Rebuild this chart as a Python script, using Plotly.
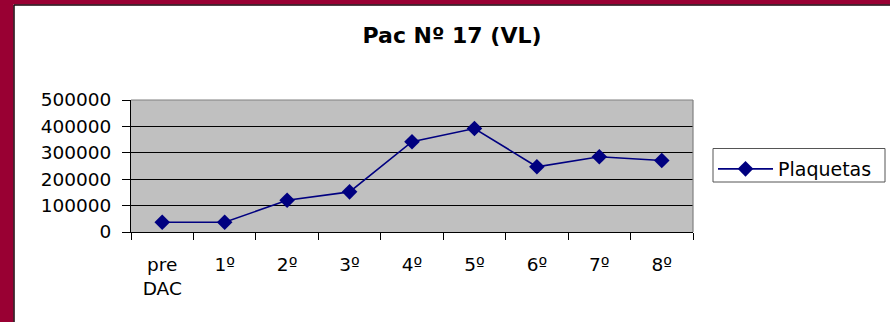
import plotly.graph_objects as go

# Platelet counts per session
categories = ["pre<br>DAC", "1º", "2º", "3º", "4º", "5º", "6º", "7º", "8º"]
plaquetas = [37000, 37000, 120000, 152000, 342000, 392000, 247000, 285000, 271000]
y_ticks = [0, 100000, 200000, 300000, 400000, 500000]

W, H = 890, 322
L, R, T, B = 131, 693, 100, 232  # plot area in pixels

def px_x(p):
    return (p - L) / (R - L)

def px_y(p):
    return 1 - (p - T) / (B - T)

FONT = "DejaVu Sans"
MAROON = "#990033"

fig = go.Figure()
fig.add_trace(go.Scatter(
    x=categories, y=plaquetas, name="Plaquetas", mode="lines+markers",
    line=dict(color="#000080", width=1.6),
    marker=dict(symbol="diamond", size=12, color="#000080"),
))

shapes = [
    # maroon frame at left and top
    dict(type="rect", xref="paper", yref="paper", x0=px_x(-2), x1=px_x(13.5),
         y0=px_y(H + 2), y1=px_y(-2), fillcolor=MAROON, line=dict(width=0), layer="above"),
    dict(type="rect", xref="paper", yref="paper", x0=px_x(-2), x1=px_x(W + 2),
         y0=px_y(4.5), y1=px_y(-2), fillcolor=MAROON, line=dict(width=0), layer="above"),
    # dark inner edge of the frame
    dict(type="line", xref="paper", yref="paper", x0=px_x(14), x1=px_x(14),
         y0=px_y(H + 2), y1=px_y(5), line=dict(color="#1a0008", width=1.5), layer="above"),
    dict(type="line", xref="paper", yref="paper", x0=px_x(14), x1=px_x(W + 2),
         y0=px_y(5), y1=px_y(5), line=dict(color="#1a0008", width=1.5), layer="above"),
    # grey top and right edges of the plot area
    dict(type="line", xref="paper", yref="paper", x0=0, x1=1, y0=1, y1=1,
         line=dict(color="#808080", width=1.2), layer="above"),
    dict(type="line", xref="paper", yref="paper", x0=1, x1=1, y0=0, y1=1,
         line=dict(color="#808080", width=1.2), layer="above"),
    # legend frame
    dict(type="rect", xref="paper", yref="paper", x0=px_x(713), x1=px_x(885),
         y0=px_y(182), y1=px_y(148.5), fillcolor="white",
         line=dict(color="#555555", width=1), layer="below"),
]

fig.update_layout(
    width=W, height=H,
    margin=dict(l=L, r=W - R, t=T, b=H - B, pad=0),
    paper_bgcolor="white",
    plot_bgcolor="#C0C0C0",
    font=dict(family=FONT, size=18, color="black"),
    title=dict(text="<b>Pac Nº 17 (VL)</b>", x=452 / W, xanchor="center",
               y=1 - 35 / H, yanchor="middle", yref="container",
               font=dict(family=FONT, size=22, color="black")),
    showlegend=True,
    legend=dict(x=px_x(713), y=px_y(150), xanchor="left", yanchor="top",
                bgcolor="rgba(0,0,0,0)", borderwidth=0, itemwidth=55,
                font=dict(family=FONT, size=19, color="black")),
    xaxis=dict(type="category", showgrid=False, showline=True, linecolor="black",
               linewidth=1, ticks="outside", tickson="boundaries", ticklen=7,
               tickcolor="black", tickwidth=1, tickfont=dict(size=18.5),
               ticklabelstandoff=16, range=[-0.5, 8.5], fixedrange=True),
    yaxis=dict(range=[0, 500000], tickvals=y_ticks, tickformat="d",
               showgrid=True, gridcolor="black", gridwidth=1, zeroline=False,
               showline=True, linecolor="black", linewidth=1, ticks="outside",
               ticklen=8, tickcolor="black", tickwidth=1, tickfont=dict(size=18.5),
               ticklabelstandoff=7, fixedrange=True),
    shapes=shapes,
)

fig.write_html("out.html")
